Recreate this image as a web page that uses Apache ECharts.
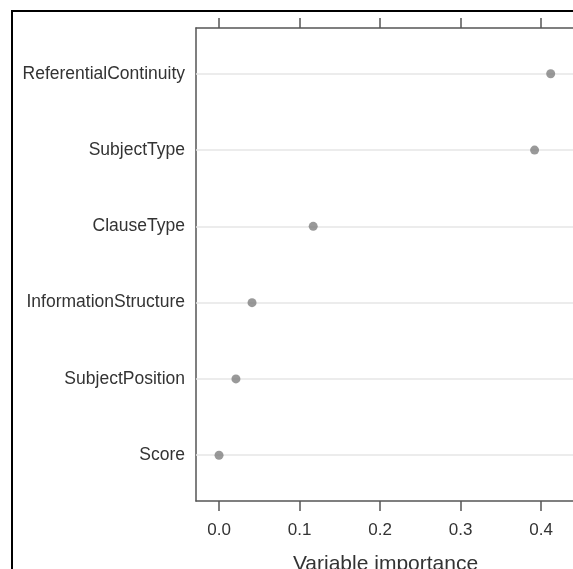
<!DOCTYPE html>
<html>
<head>
<meta charset="utf-8">
<script src="https://cdn.jsdelivr.net/npm/echarts@6/dist/echarts.min.js"></script>
<style>
  html, body { margin: 0; padding: 0; background: #fff; }
  #chart { width: 573px; height: 569px; }
</style>
</head>
<body>
<div id="chart"></div>
<script>
// variable importance, top to bottom as in the dot plot
const categories = [
    "ReferentialContinuity",
    "SubjectType",
    "ClauseType",
    "InformationStructure",
    "SubjectPosition",
    "Score"
];
const importance = [0.412, 0.392, 0.117, 0.041, 0.021, 0.0];
const xTicks = [0, 0.1, 0.2, 0.3, 0.4];

const rows = categories.map((name, i) => i + 1);
const points = categories.map((name, i) => [importance[i], i + 1]);

const chart = echarts.init(document.getElementById("chart"));
const axisColor = "#555";
const textColor = "#333";
const font = "Liberation Sans";

chart.setOption({
    animation: false,
    grid: {
        left: 196,
        top: 28,
        width: 379,
        height: 473,
        outerBoundsMode: "none"
    },
    graphic: [
        {
            // outer frame of the figure
            type: "rect",
            shape: { x: 12, y: 11, width: 700, height: 700 },
            style: { fill: "none", stroke: "#000", lineWidth: 2 },
            silent: true
        }
    ],
    xAxis: [
        {
            type: "value",
            position: "bottom",
            min: -0.0286,
            max: 0.4422,
            splitLine: { show: false },
            axisLine: { show: true, onZero: false, lineStyle: { color: axisColor, width: 1.5 } },
            axisTick: {
                show: true,
                length: 10,
                customValues: xTicks,
                lineStyle: { color: axisColor, width: 1.5 }
            },
            axisLabel: {
                customValues: xTicks,
                formatter: (v) => v.toFixed(1),
                color: textColor,
                fontSize: 17,
                fontFamily: font,
                margin: 21
            },
            name: "Variable importance",
            nameLocation: "middle",
            nameGap: 53,
            nameTextStyle: { color: textColor, fontSize: 21, fontFamily: font }
        },
        {
            type: "value",
            position: "top",
            min: -0.0286,
            max: 0.4422,
            splitLine: { show: false },
            axisLine: { show: true, onZero: false, lineStyle: { color: axisColor, width: 1.5 } },
            axisTick: {
                show: true,
                length: 10,
                customValues: xTicks,
                lineStyle: { color: axisColor, width: 1.5 }
            },
            axisLabel: { show: false }
        }
    ],
    yAxis: [
        {
            type: "value",
            inverse: true,
            min: 0.4,
            max: 6.6,
            splitLine: { show: false },
            axisLine: { show: true, onZero: false, lineStyle: { color: axisColor, width: 1.5 } },
            axisTick: { show: false },
            axisLabel: {
                customValues: rows,
                formatter: (v) => categories[Math.round(v) - 1],
                color: textColor,
                fontSize: 17.5,
                fontFamily: font,
                margin: 11
            }
        }
    ],
    series: [
        {
            type: "scatter",
            data: points,
            z: 3,
            symbol: "circle",
            symbolSize: 9,
            itemStyle: { color: "#808080" },
            markLine: {
                // light horizontal guide lines, under the dots
                z: 1,
                silent: true,
                symbol: "none",
                label: { show: false },
                lineStyle: { color: "#e6e6e6", type: "solid", width: 1.5 },
                data: rows.map((r) => ({ yAxis: r }))
            }
        }
    ]
});
</script>
</body>
</html>
